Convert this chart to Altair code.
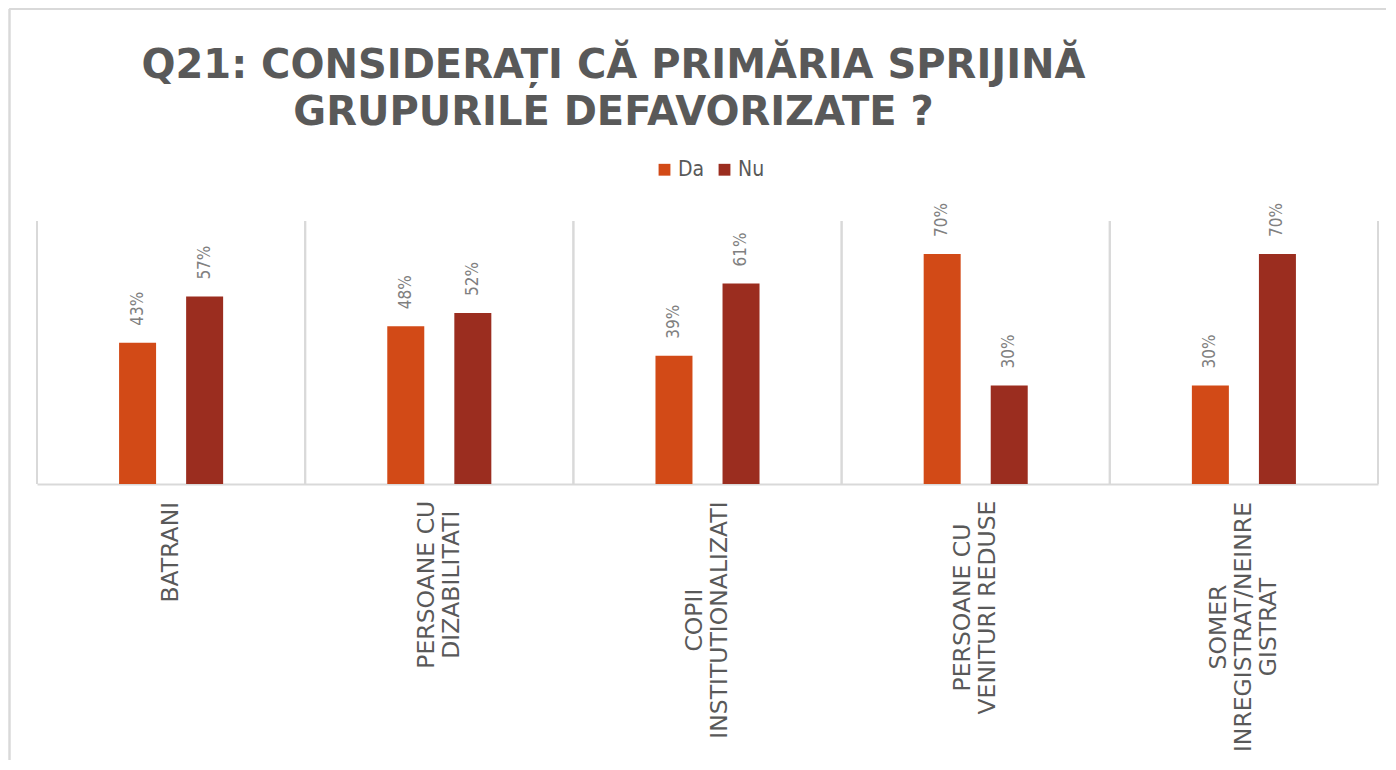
import json
import altair as alt
import pandas as pd

# ---- data ----
categories = [
    "BATRANI",
    "PERSOANE CU DIZABILITATI",
    "COPII INSTITUTIONALIZATI",
    "PERSOANE CU VENITURI REDUSE",
    "SOMER INREGISTRAT/NEINREGISTRAT",
]
label_lines = [
    ["BATRANI"],
    ["PERSOANE CU", "DIZABILITATI"],
    ["COPII", "INSTITUTIONALIZATI"],
    ["PERSOANE CU", "VENITURI REDUSE"],
    ["SOMER", "INREGISTRAT/NEINRE", "GISTRAT"],
]
series = ["Da", "Nu"]
da_values = [0.43, 0.48, 0.39, 0.70, 0.30]
nu_values = [0.57, 0.52, 0.61, 0.30, 0.70]
colors = ["#D24A17", "#9B2D1F"]
title_lines = ["Q21: CONSIDERAȚI CĂ PRIMĂRIA SPRIJINĂ", "GRUPURILE DEFAVORIZATE ?"]

rows = []
for i, c in enumerate(categories):
    rows.append({"cat": c, "series": "Da", "value": da_values[i]})
    rows.append({"cat": c, "series": "Nu", "value": nu_values[i]})
df = pd.DataFrame(rows)
cat_df = pd.DataFrame({"cat": categories})

W, H = 1341, 263
GRID = "#d9d9d9"
TEXT = "#595959"
LABEL_SIZE = 23.5
LINE_H = 25
GAP = 16  # gap between axis line and top of the labels

# approximate DejaVu Sans advance widths (em), used to centre each rotated
# label block on its longest line (as the reference does)
_W = {"A": .684, "B": .686, "C": .698, "D": .770, "E": .632, "G": .775, "I": .295,
      "L": .557, "M": .863, "N": .748, "O": .787, "P": .603, "R": .695, "S": .635,
      "T": .611, "U": .732, "V": .684, "Z": .685, "/": .337, " ": .318}


def _len(s):
    return sum(_W.get(ch, 0.65) for ch in s) * LABEL_SIZE


label_map = "{" + ",".join(
    "'" + c + "': " + json.dumps(lines) for c, lines in zip(categories, label_lines)
) + "}"

pad_conditions = [
    {"test": "datum.value == '" + c + "'",
     "value": round(GAP + max(_len(l) for l in lines) / 2, 1)}
    for c, lines in zip(categories, label_lines)
]
offset_conditions = [
    {"test": "datum.value == '" + c + "'", "value": -(len(lines) - 1) * LINE_H / 2}
    for c, lines in zip(categories, label_lines) if len(lines) > 1
]

x_scale = alt.Scale(paddingInner=0, paddingOuter=0)

x_axis = alt.Axis(
    title=None,
    labelAngle=270,
    labelAlign="center",
    labelBaseline="middle",
    labelExpr=label_map + "[datum.label]",
    labelFont="DejaVu Sans",
    labelFontSize=LABEL_SIZE,
    labelColor=TEXT,
    labelLineHeight=LINE_H,
    labelPadding={"condition": pad_conditions, "value": GAP},
    labelLimit=0,
    labelOffset={"condition": offset_conditions, "value": 0},
    ticks=False,
    grid=False,
    domainColor=GRID,
    domainWidth=2,
)

y_enc = alt.Y("value:Q", scale=alt.Scale(domain=[0, 0.8]), axis=None)
xoff = alt.XOffset("series:N", sort=series,
                   scale=alt.Scale(paddingInner=0, paddingOuter=1))

bars = alt.Chart(df).mark_bar(width=37).encode(
    x=alt.X("cat:N", sort=categories, scale=x_scale, axis=x_axis),
    xOffset=xoff,
    y=y_enc,
    color=alt.Color(
        "series:N",
        sort=series,
        scale=alt.Scale(domain=series, range=colors),
        legend=alt.Legend(
            title=None,
            orient="none",
            legendX=617,
            legendY=-62,
            direction="horizontal",
            symbolType="square",
            symbolSize=140,
            symbolStrokeWidth=0,
            labelFont="DejaVu Sans Condensed, DejaVu Sans",
            labelFontSize=21,
            labelColor=TEXT,
            labelOffset=3,
            columnPadding=9,
        ),
    ),
)

labels = alt.Chart(df).mark_text(
    angle=270, align="left", baseline="middle", dx=17,
    font="DejaVu Sans Condensed, DejaVu Sans", fontSize=17, color="#808080",
).encode(
    x=alt.X("cat:N", sort=categories, scale=x_scale, axis=x_axis),
    xOffset=xoff,
    y=y_enc,
    text=alt.Text("value:Q", format=".0%"),
)

# vertical separators at the category boundaries
sep_start = alt.Chart(cat_df).mark_rule(color=GRID, strokeWidth=2).encode(
    x=alt.X("cat:N", sort=categories, scale=x_scale, axis=x_axis, bandPosition=0),
)
sep_end = alt.Chart(cat_df).mark_rule(color=GRID, strokeWidth=2).encode(
    x=alt.X("cat:N", sort=categories, scale=x_scale, axis=x_axis, bandPosition=1),
)

# light chart-area frame (left and top edges, as in the reference)
frame_left = alt.Chart(cat_df).mark_rule(color=GRID, strokeWidth=1.5).encode(
    x=alt.value(-27.5), y=alt.value(-212), y2=alt.value(H + 276),
)
frame_top = alt.Chart(cat_df).mark_rule(color=GRID, strokeWidth=1.5).encode(
    x=alt.value(-27.5), x2=alt.value(W + 8), y=alt.value(-212),
)

chart = (
    alt.layer(frame_left, frame_top, sep_start, sep_end, bars, labels)
    .properties(
        width=W,
        height=H,
        padding={"left": 0, "top": 0, "right": 0, "bottom": 0},
        title=alt.TitleParams(
            title_lines,
            font="DejaVu Sans",
            fontSize=40,
            fontWeight="bold",
            color=TEXT,
            anchor="middle",
            frame="group",
            dx=-94,
            dy=125,
            lineHeight=47,
            offset=0,
        ),
    )
    .configure(background="white")
    .configure_view(stroke="transparent", strokeWidth=0)
)

chart.save("out.html", embed_options={"renderer": "svg", "actions": False})
